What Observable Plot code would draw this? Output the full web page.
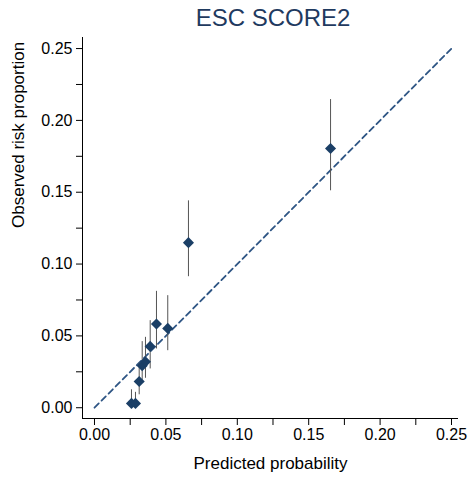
<!DOCTYPE html>
<html>
<head>
<meta charset="utf-8">
<script src="https://cdn.jsdelivr.net/npm/d3@7"></script>
<script src="https://cdn.jsdelivr.net/npm/@observablehq/plot@0.6"></script>
<style>
  body { margin: 0; background: #fff; }
  #title { height: 34px; line-height: 36px; padding-left: 76px; text-align: center; font-family: 'Liberation Sans', Arial, sans-serif; font-size: 24px; color: #1f3a5f; width: 394px; }
</style>
</head>
<body>
<div id="title">ESC SCORE2</div>
<div id="chart"></div>
<script>
const pred = [0.0259, 0.0287, 0.0313, 0.0334, 0.0357, 0.0390, 0.0434, 0.0513, 0.0658, 0.1653];
const obs  = [0.0030, 0.0030, 0.0183, 0.0292, 0.0320, 0.0427, 0.0583, 0.0552, 0.1149, 0.1804];
const lo   = [0.0000, 0.0005, 0.0090, 0.0190, 0.0205, 0.0270, 0.0409, 0.0397, 0.0912, 0.1510];
const hi   = [0.0125, 0.0107, 0.0310, 0.0460, 0.0490, 0.0606, 0.0810, 0.0780, 0.1440, 0.2145];

const majorTicks = [0, 0.05, 0.10, 0.15, 0.20, 0.25];
const minorTicks = [0.025, 0.075, 0.125, 0.175, 0.225];
const refLine = [0, 0.25];

const data = pred.map((p, i) => ({pred: p, obs: obs[i], lo: lo[i], hi: hi[i]}));
const diag = refLine.map(v => ({x: v, y: v}));

const xDom = [-0.0084, 0.2549];
const yDom = [-0.0075, 0.2577];
const fmt = d3.format(".2f");

const chart = Plot.plot({
  width: 470,
  height: 448,
  marginLeft: 82,
  marginRight: 12,
  marginTop: 3,
  marginBottom: 64,
  x: {domain: xDom},
  y: {domain: yDom},
  style: {fontFamily: "'Liberation Sans', Arial, sans-serif", fontSize: "16px", color: "#000", background: "#fff", overflow: "visible"},
  marks: [
    Plot.ruleX([xDom[0]], {stroke: "#000", strokeWidth: 1}),
    Plot.ruleY([yDom[0]], {stroke: "#000", strokeWidth: 1}),
    Plot.axisX(majorTicks, {tickSize: 7, tickPadding: 3, tickFormat: fmt, label: null, fontSize: 16}),
    Plot.axisX(minorTicks, {tickSize: 7, tickFormat: () => "", label: null}),
    Plot.axisY(majorTicks, {tickSize: 6, tickPadding: 4, tickFormat: fmt, label: null, fontSize: 16}),
    Plot.axisY(minorTicks, {tickSize: 6, tickFormat: () => "", label: null}),
    Plot.line(diag, {x: "x", y: "y", stroke: "#2e5584", strokeWidth: 1.8, strokeDasharray: "6,4"}),
    Plot.ruleX(data, {x: "pred", y1: "lo", y2: "hi", stroke: "#555", strokeWidth: 1}),
    Plot.dot(data, {x: "pred", y: "obs", symbol: "diamond2", r: 5, fill: "#1b3f66", stroke: "none"}),
    Plot.text(["Predicted probability"], {frameAnchor: "bottom", dy: 50, fontSize: 17, fill: "#000"}),
    Plot.text(["Observed risk proportion"], {frameAnchor: "left", dx: -64, rotate: -90, fontSize: 17, fill: "#000"})
  ]
});
document.getElementById("chart").appendChild(chart);
</script>
</body>
</html>
